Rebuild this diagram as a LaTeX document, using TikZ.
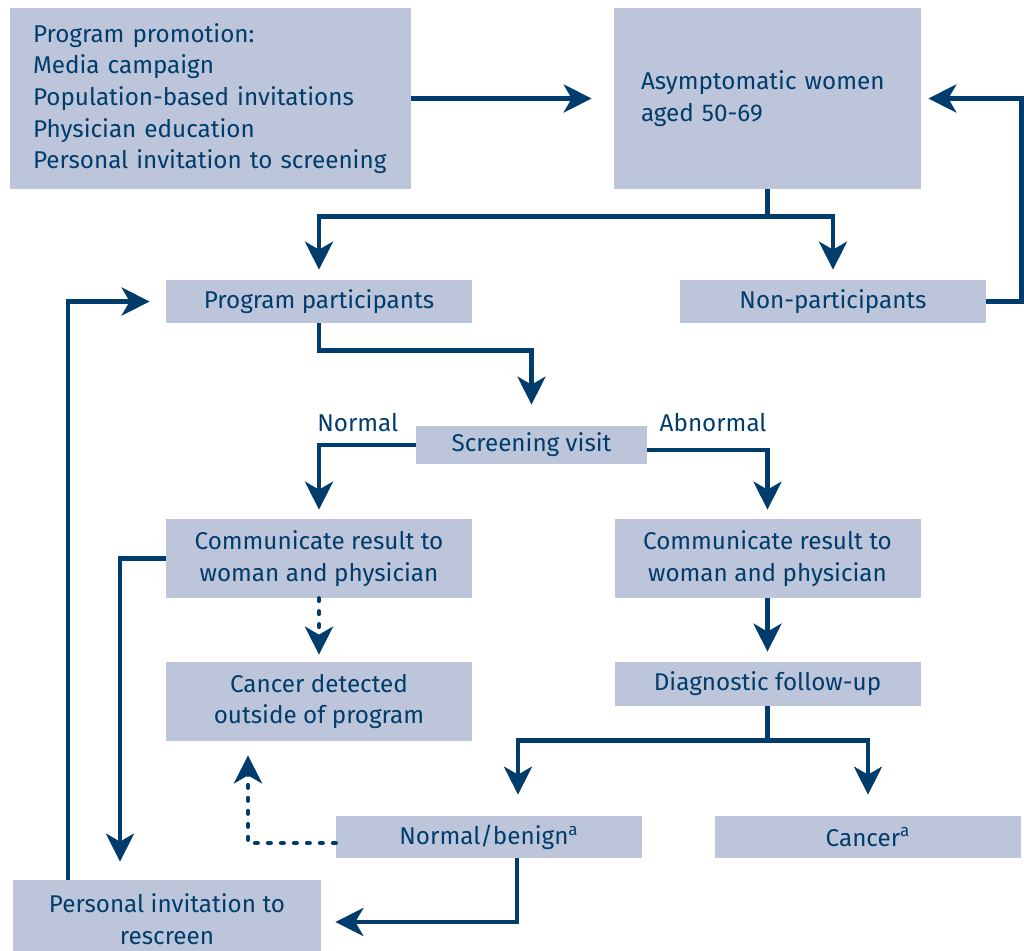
\documentclass[tikz,border=0pt]{standalone}
\usepackage{fontspec}
\setmainfont{Fira Sans}
\usetikzlibrary{arrows.meta,positioning}
\definecolor{navy}{HTML}{003C6C}
\definecolor{boxblue}{HTML}{BCC5D9}

\begin{document}
\begin{tikzpicture}[
    box/.style={fill=boxblue, text=navy, minimum width=6.12cm, minimum height=0.86cm, inner sep=0pt, align=center, font=\fontsize{13.8}{18}\selectfont},
    tall/.style={box, minimum height=1.58cm},
    lbl/.style={text=navy, inner sep=0pt, font=\fontsize{13.8}{18}\selectfont},
    flow/.style={draw=navy, line width=0.09cm, -{Stealth[length=0.56cm,width=0.56cm,inset=0.16cm]}},
    dotflow/.style={flow, line cap=round, dash pattern=on 0.05cm off 0.21cm}
]
\useasboundingbox (0,0) rectangle (20.48,-19.02);

\node[box, minimum width=8.02cm, minimum height=3.62cm, align=left, text width=7.1cm, inner xsep=0.46cm] (promo) at (4.21,-1.97)
  {Program promotion:\\Media campaign\\Population-based invitations\\Physician education\\Personal invitation to screening};
\node[box, minimum width=6.14cm, minimum height=3.62cm, align=left, text width=5.06cm, inner xsep=0.54cm] (asym) at (15.35,-1.97)
  {Asymptomatic women\\aged 50-69\\[-0.16cm]};

\node[box] (part) at (6.38,-6.03) {Program participants};
\node[box] (nonpart) at (16.66,-6.03) {Non-participants};

\node[box, minimum width=4.62cm, minimum height=0.76cm] (screen) at (10.63,-8.9) {Screening visit};
\node[lbl, anchor=east] at ([xshift=-0.34cm,yshift=0.06cm]screen.north west) {Normal};
\node[lbl, anchor=west] at ([xshift=0.24cm,yshift=0.06cm]screen.north east) {Abnormal};

\node[tall] (commL) at (6.38,-11.17) {Communicate result to\\woman and physician};
\node[tall] (commR) at (15.35,-11.17) {Communicate result to\\woman and physician};

\node[tall] (outside) at (6.38,-14.03) {Cancer detected\\outside of program};
\node[box, minimum height=0.88cm] (diag) at (15.35,-13.68) {Diagnostic follow-up};

\node[box, minimum height=0.84cm] (benign) at (9.78,-16.74) {Normal/benign\textsuperscript{a}};
\node[box, minimum height=0.84cm] (cancer) at (17.36,-16.74) {Cancer\textsuperscript{a}};

\node[tall, minimum width=6.16cm, minimum height=1.56cm] (rescreen) at (3.34,-18.38) {Personal invitation to\\rescreen};

% top part
\draw[flow, shorten >=0.44cm] (promo.east) -- (asym.west);
\draw[flow, shorten >=0.2cm] (asym.south) -- ++(0,-0.54) coordinate (split) -| (part.north);
\draw[flow, shorten >=0.2cm] (split) -| (nonpart.north);
\draw[flow, shorten >=0.14cm] (nonpart.east) -- ++(0.7,0) |- (asym.east);
\draw[flow, shorten >=0.42cm] (part.south) -- ++(0,-0.54) -| (screen.north);

% screening results
\draw[flow, shorten >=0.18cm] (screen.west) -| (commL.north);
\draw[flow, shorten >=0.18cm] ([yshift=-0.1cm]screen.east) -| (commR.north);
\draw[flow, shorten >=0.36cm] (commL.west) -| ([xshift=-0.94cm]rescreen.north);
\draw[dotflow, shorten >=0.14cm] (commL.south) -- (outside.north);
\draw[flow, shorten >=0.2cm] (commR.south) -- (diag.north);

% follow-up
\draw[flow, shorten >=0.42cm] (diag.south) -- ++(0,-0.68) coordinate (dsplit) -| ([xshift=0.58cm]benign.north);
\draw[flow, shorten >=0.42cm] (dsplit) -| (cancer.north);
\draw[dotflow, shorten >=0.28cm] ([yshift=-0.12cm]benign.west) -| ([xshift=-1.42cm]outside.south);
\draw[flow, shorten >=0.28cm] ([xshift=0.56cm]benign.south) |- ([yshift=-0.06cm]rescreen.east);
\draw[flow, shorten >=0.32cm] ([xshift=-1.98cm]rescreen.north) |- (part.west);

\end{tikzpicture}
\end{document}
